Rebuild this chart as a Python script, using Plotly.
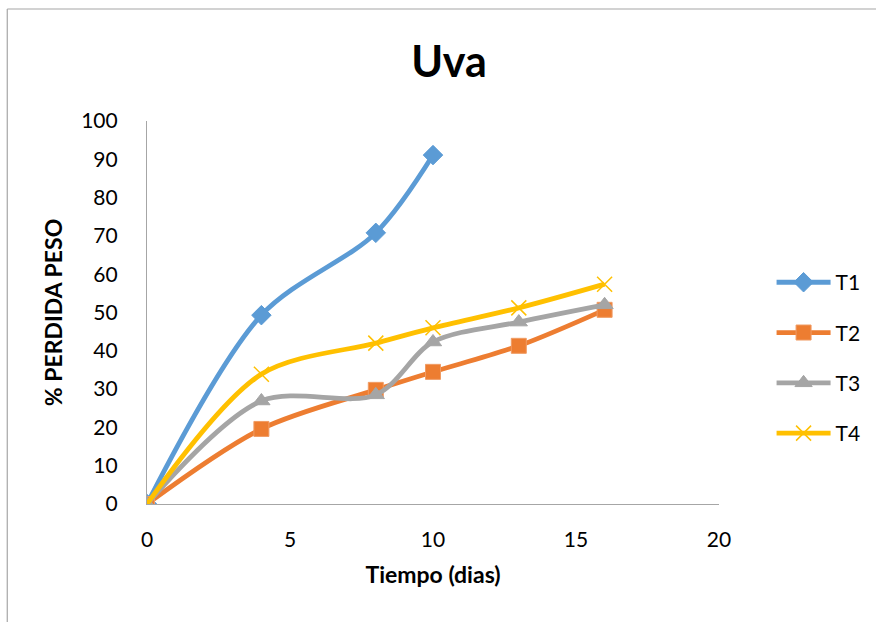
import plotly.graph_objects as go

# Weight loss (%) of grapes over storage time for four treatments
dias_t1 = [0, 4, 8, 10]
perdida_t1 = [0, 49.3, 70.8, 91.1]

dias = [0, 4, 8, 10, 13, 16]
perdida_t2 = [0, 19.6, 29.8, 34.5, 41.3, 50.7]
perdida_t3 = [0, 26.9, 28.5, 42.3, 47.5, 52.0]
perdida_t4 = [0, 33.9, 42.0, 46.0, 51.2, 57.4]

x_ticks = [0, 5, 10, 15, 20]
y_ticks = [0, 10, 20, 30, 40, 50, 60, 70, 80, 90, 100]

FONT = "Lato, 'Open Sans', sans-serif"

series = [
    ("T1", dias_t1, perdida_t1, "#5B9BD5",
     dict(symbol="diamond", size=15, color="#5B9BD5", line=dict(width=1, color="#5B9BD5"))),
    ("T2", dias, perdida_t2, "#ED7D31",
     dict(symbol="square", size=15, color="#ED7D31", line=dict(width=1, color="#F09B63"))),
    ("T3", dias, perdida_t3, "#A5A5A5",
     dict(symbol="triangle-up", size=15, color="#A5A5A5", line=dict(width=1, color="#A5A5A5"))),
    ("T4", dias, perdida_t4, "#FFC000",
     dict(symbol="x-thin", size=15, color="#FFC000", line=dict(width=1.5, color="#FFC000"))),
]

fig = go.Figure()
for name, xs, ys, color, marker in series:
    fig.add_trace(go.Scatter(
        x=xs, y=ys, name=name, mode="lines+markers",
        line=dict(color=color, width=4.8, shape="spline", smoothing=0.9),
        marker=marker, legendgroup=name,
    ))

# Chart frame (left and top edges)
fig.add_shape(type="line", xref="paper", yref="paper",
              x0=-0.2443, x1=-0.2443, y0=-0.5, y1=1.2924,
              line=dict(color="#A6A6A6", width=1.2))
fig.add_shape(type="line", xref="paper", yref="paper",
              x0=-0.2443, x1=1.5, y0=1.2924, y1=1.2924,
              line=dict(color="#A6A6A6", width=1.2))

fig.update_layout(
    width=876, height=622,
    margin=dict(l=147, r=156, t=121, b=118),
    paper_bgcolor="white", plot_bgcolor="white",
    font=dict(family=FONT, color="#000000", size=21),
    title=dict(text="<b>Uva</b>", x=0.5126, xanchor="center", xref="container",
               y=0.9, yanchor="middle", yref="container",
               font=dict(size=43, family=FONT, color="#000000")),
    xaxis=dict(range=[0, 20], tickvals=x_ticks, showgrid=False, zeroline=False,
               showline=True, linecolor="#A6A6A6", linewidth=1.2, ticks="",
               tickfont=dict(size=21), ticklabelstandoff=17,
               title=dict(text="<b>Tiempo (dias)</b>", font=dict(size=23), standoff=16)),
    yaxis=dict(range=[0, 100], tickvals=y_ticks, showgrid=False, zeroline=False,
               showline=True, linecolor="#A6A6A6", linewidth=1.2, ticks="",
               tickfont=dict(size=21), ticklabelstandoff=24,
               title=dict(text="<b>% PERDIDA PESO</b>", font=dict(size=23), standoff=12)),
    legend=dict(x=1.09, y=0.381, xanchor="left", yanchor="middle",
                font=dict(size=21), tracegroupgap=20, itemwidth=54,
                bgcolor="rgba(0,0,0,0)"),
    showlegend=True,
)

fig.write_html("out.html")
